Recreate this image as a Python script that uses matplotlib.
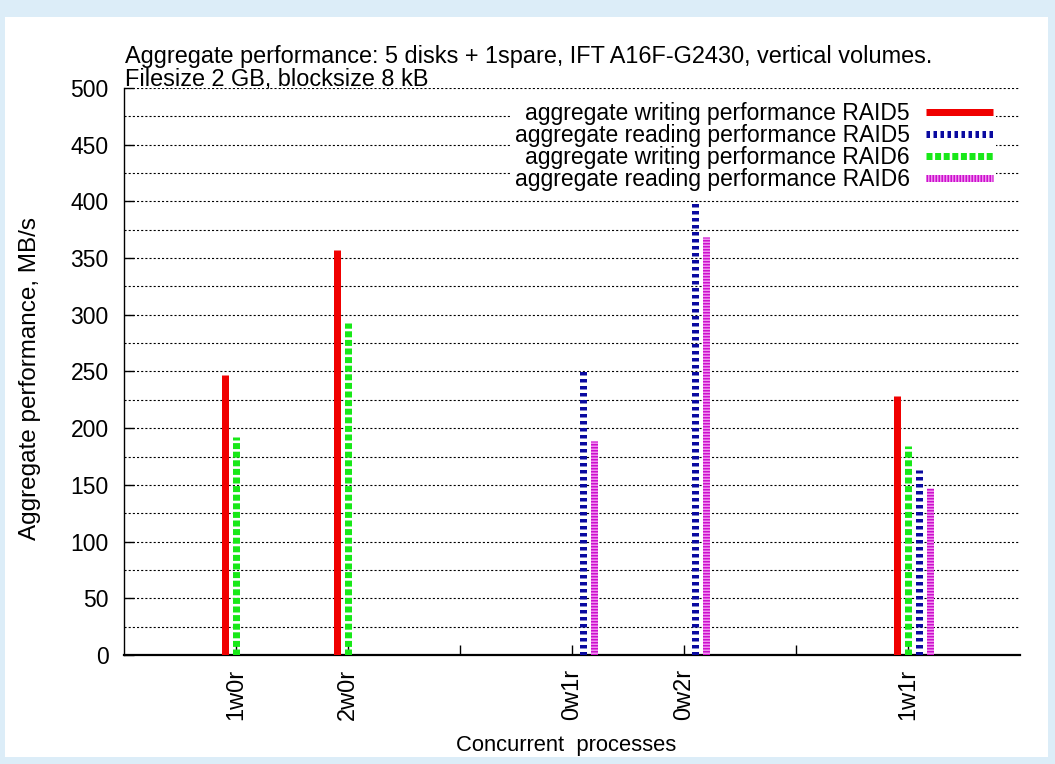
import matplotlib
matplotlib.use("Agg")
import matplotlib.pyplot as plt
from matplotlib.patches import Rectangle
from matplotlib.legend_handler import HandlerTuple
from matplotlib.lines import Line2D

plt.rcParams['font.family'] = ['Liberation Sans', 'DejaVu Sans']
plt.rcParams['lines.scale_dashes'] = False

categories = ["1w0r", "2w0r", "0w1r", "0w2r", "1w1r"]
cat_pos = [1, 2, 4, 5, 7]
write_raid5 = [247, 357, None, None, 228]
read_raid5 = [None, None, 253, 399, 163]
write_raid6 = [192, 293, None, None, 184]
read_raid6 = [None, None, 189, 369, 147]

labels = ["aggregate writing performance RAID5",
          "aggregate reading performance RAID5",
          "aggregate writing performance RAID6",
          "aggregate reading performance RAID6"]

W, H = 1055, 764
fig = plt.figure(figsize=(W / 100, H / 100), dpi=100)
fig.patch.set_facecolor('#dcedf8')
fig.patches.append(Rectangle((5 / W, 1 - 757 / H), 1043 / W, 740 / H,
                             transform=fig.transFigure, facecolor='white',
                             edgecolor='none', zorder=-5))

ax = fig.add_axes([124 / W, 1 - 655 / H, 896 / W, 567 / H])
ax.set_facecolor('none')
ax.set_zorder(2)
ax.set_xlim(0, 8)
ax.set_ylim(0, 500)

px = 0.72  # points per pixel
lw = 7 * px

def impulses(vals, off, **kw):
    xs = [p + off for p, v in zip(cat_pos, vals) if v is not None]
    ys = [v for v in vals if v is not None]
    return ax.vlines(xs, 0, ys, **kw)

impulses(write_raid5, -0.1, colors='#f00000', linewidth=lw, zorder=3)
impulses(write_raid6, 0.0, colors='#18e818', linewidth=lw,
         linestyles=[(0, (6 * px, 2.6 * px))], zorder=3)
impulses(read_raid5, 0.1, colors='#0a0aa0', linewidth=lw,
         linestyles=[(0, (3.5 * px, 3.5 * px))], zorder=3)
impulses(read_raid6, 0.2, colors='#f090f0', linewidth=lw, zorder=3)
impulses(read_raid6, 0.2, colors='#cc10cc', linewidth=lw,
         linestyles=[(0, (1.5 * px, 1.5 * px))], zorder=3)

# grid
ax.set_yticks(range(0, 501, 50))
ax.set_yticks(range(0, 501, 25), minor=True)
ax.yaxis.grid(True, which='both', color='black', linewidth=0.8,
              linestyle=(0, (1.5, 1.5)))
ax.set_axisbelow(True)

ax.set_xticks([1, 2, 3, 4, 5, 6, 7])
xt = []
for t in [1, 2, 3, 4, 5, 6, 7]:
    xt.append(categories[cat_pos.index(t)] if t in cat_pos else "")
ax.set_xticklabels(xt, rotation=90, va='top', ha='center')
ax.tick_params(axis='x', direction='in', length=7, width=1, pad=10,
               labelsize=17)
ax.tick_params(axis='y', which='major', direction='in', length=7, width=1,
               pad=11, labelsize=16.5)
ax.tick_params(axis='y', which='minor', left=False)

for s in ['top', 'right']:
    ax.spines[s].set_visible(False)
ax.spines['left'].set_linewidth(1.0)
ax.spines['bottom'].set_linewidth(1.6)

# legend
h1 = Line2D([], [], color='#f00000', linewidth=lw, solid_capstyle='butt')
h2 = Line2D([], [], color='#0a0aa0', linewidth=lw,
            linestyle=(0, (3.5 * px, 3.5 * px)))
h3 = Line2D([], [], color='#18e818', linewidth=lw,
            linestyle=(0, (6 * px, 2.6 * px)))
h4a = Line2D([], [], color='#f090f0', linewidth=lw, solid_capstyle='butt')
h4b = Line2D([], [], color='#cc10cc', linewidth=lw,
             linestyle=(0, (1.5 * px, 1.5 * px)))
leg = ax.legend([h1, h2, h3, (h4a, h4b)], labels,
                handler_map={tuple: HandlerTuple(ndivide=1, pad=0)},
                loc='upper right', bbox_to_anchor=(996 / W, 1 - 99 / H),
                bbox_transform=fig.transFigure, markerfirst=False,
                fontsize=16.5, frameon=True, facecolor='white',
                edgecolor='none', framealpha=1, fancybox=False,
                handlelength=2.9, handletextpad=0.7, labelspacing=-0.05,
                borderpad=0.15, borderaxespad=0)
for t in leg.get_texts():
    t.set_ha('right')
leg.set_zorder(5)

fig.text(125 / W, 1 - 63 / H,
         "Aggregate performance: 5 disks + 1spare, IFT A16F-G2430, vertical volumes.",
         fontsize=16.9, va='baseline', ha='left')
fig.text(125 / W, 1 - 86 / H, "Filesize 2 GB, blocksize 8 kB",
         fontsize=16.9, va='baseline', ha='left')

fig.text(30 / W, 1 - 378 / H, "Aggregate performance, MB/s", rotation=90,
         fontsize=17.5, ha='center', va='center')
fig.text(566 / W, 1 - 746 / H, "Concurrent  processes",
         fontsize=15.8, ha='center', va='center')

fig.savefig("out.png", dpi=100, facecolor=fig.get_facecolor())
